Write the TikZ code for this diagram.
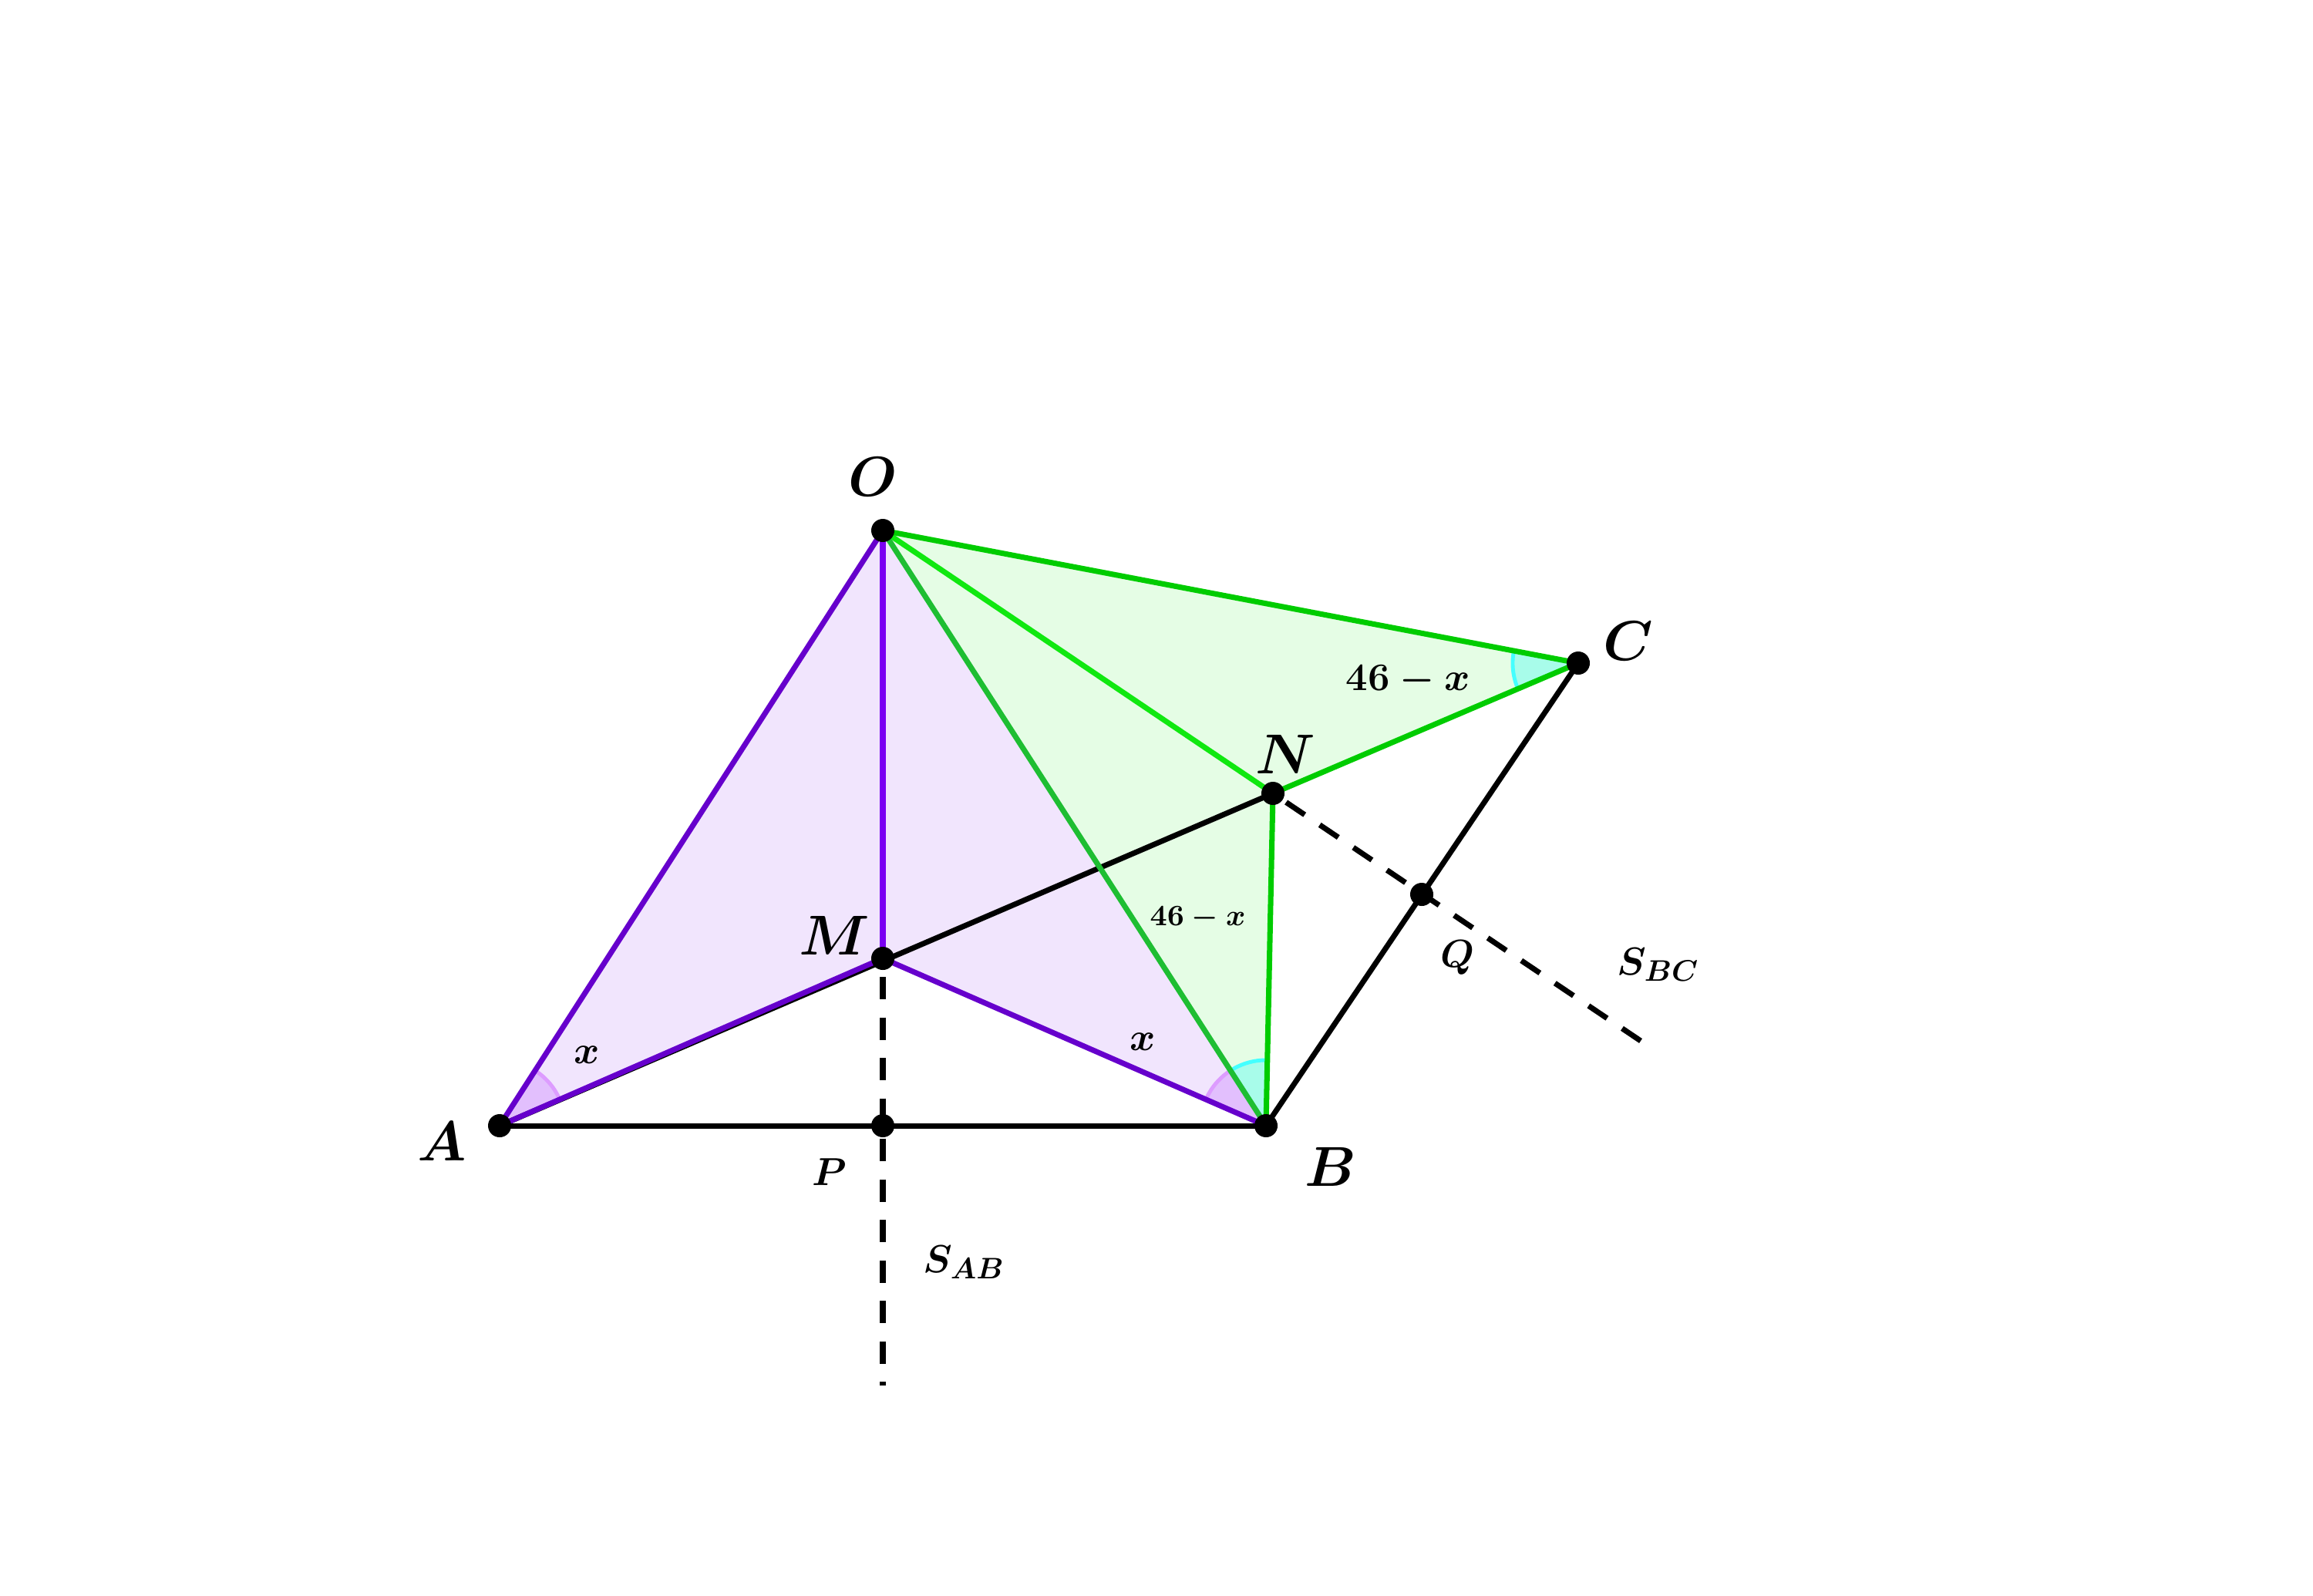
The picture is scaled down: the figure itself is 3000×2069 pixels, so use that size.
\documentclass[tikz,border=0pt]{standalone}
\usepackage{amsmath}
\usetikzlibrary{angles}
\definecolor{purpleline}{HTML}{6600CC}
\definecolor{purplemid}{HTML}{7A00F2}
\definecolor{purplefill}{HTML}{F1E5FD}
\definecolor{anglepurple}{HTML}{E2BFFD}
\definecolor{arcpurple}{HTML}{DD9CFF}
\definecolor{greenline}{HTML}{00CC00}
\definecolor{greenbright}{HTML}{10E810}
\definecolor{greendark}{HTML}{1EBE32}
\definecolor{greenfill}{HTML}{E5FDE5}
\definecolor{anglecyan}{HTML}{A8FCEA}
\definecolor{arccyan}{HTML}{44FFFF}
\tikzset{
  seg/.style={line width=2pt, line cap=round},
  dashedline/.style={line width=2pt, dash pattern=on 2.9mm off 2.35mm},
  dotpt/.style={fill=black},
  biglabel/.style={inner sep=0pt, font=\fontsize{20}{24}\selectfont\boldmath},
  midlabel/.style={inner sep=0pt, font=\fontsize{15.5}{18}\selectfont\boldmath},
  smalllabel/.style={inner sep=0pt, font=\fontsize{11}{13}\selectfont\boldmath},
  anglemark/.style={line width=1.4pt, angle radius=0.85cm},
}
\begin{document}
\begin{tikzpicture}[x=0.01cm,y=-0.01cm]
\useasboundingbox (0,0) rectangle (3000,2069);
% points
\coordinate (A) at (648,1460);
\coordinate (B) at (1642,1460);
\coordinate (P) at (1145,1460);
\coordinate (O) at (1145,688);
\coordinate (M) at (1145,1243);
\coordinate (C) at (2047,860);
\coordinate (N) at (1651,1029);
\coordinate (Q) at (1844,1160);
\coordinate (sab) at (1145,1797);
\coordinate (sbc) at (2128,1350);
% fills
\fill[purplefill] (A) -- (O) -- (B) -- (M) -- cycle;
\fill[greenfill] (O) -- (C) -- (N) -- (B) -- cycle;
% angles
\pic[anglemark, draw=arcpurple, fill=anglepurple] {angle = M--A--O};
\pic[anglemark, draw=arcpurple, fill=anglepurple] {angle = O--B--M};
\pic[anglemark, draw=arccyan, fill=anglecyan] {angle = N--B--O};
\pic[anglemark, draw=arccyan, fill=anglecyan] {angle = O--C--N};
% black segments
\draw[seg] (A) -- (B);
\draw[seg] (A) -- (N);
\draw[seg] (B) -- (C);
% dashed bisectors
\draw[dashedline, dash phase=2.85mm] (M) -- (sab);
\draw[dashedline] (sbc) -- (N);
% purple segments
\draw[seg, purpleline] (O) -- (A);
\draw[seg, purpleline] (A) -- (M);
\draw[seg, purpleline] (M) -- (B);
\draw[seg, purplemid] (O) -- (M);
% green segments
\draw[seg, greendark] (O) -- (B);
\draw[seg, greenbright] (O) -- (N);
\draw[seg, greenline] (O) -- (C);
\draw[seg, greenline] (C) -- (N);
\draw[seg, greenline] (N) -- (B);
% dots
\foreach \p in {A,B,P,O,M,C,N,Q} \fill[dotpt] (\p) circle[radius=0.15cm];
% labels
\node[biglabel] (lO) at (1132,618) {$O$};
\node[biglabel] (lA) at (573,1480) {$A$};
\node[biglabel] (lB) at (1726,1513) {$B$};
\node[biglabel] (lC) at (2112,831) {$C$};
\node[biglabel] (lN) at (1667,978) {$N$};
\node[biglabel] (lM) at (1082,1213) {$M$};
\node[midlabel] (lP) at (1076,1520) {$P$};
\node[midlabel] (lQ) at (1890,1242) {$Q$};
\node[midlabel, anchor=base west] (lsab) at (1197,1650) {$S_{AB}$};
\node[midlabel, anchor=base west] (lsbc) at (2097,1264) {$S_{BC}$};
\node[midlabel] (lx1) at (761,1368) {$x$};
\node[midlabel] (lx2) at (1482,1351) {$x$};
\node[midlabel, anchor=base west] (lc1) at (1745,895) {$46-x$};
\node[smalllabel, anchor=base west] (lc2) at (1491,1200) {$46-x$};
\end{tikzpicture}
\end{document}
